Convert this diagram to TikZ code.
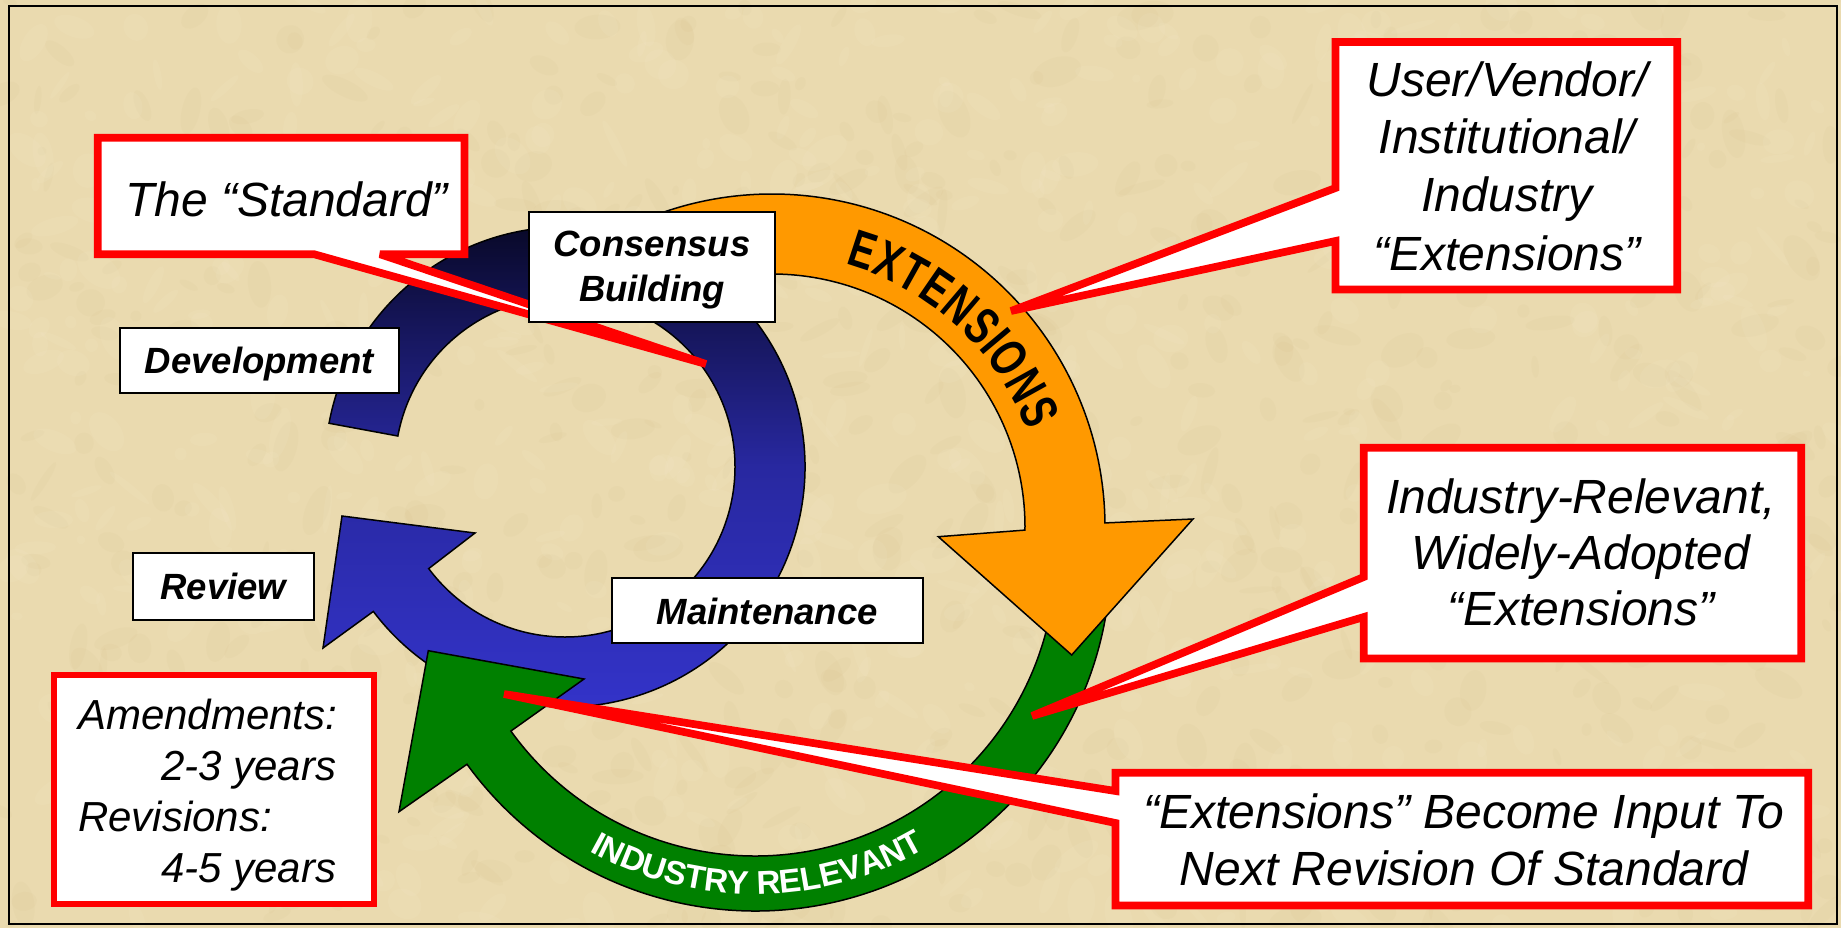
\documentclass[tikz,border=0pt]{standalone}
\usepackage{graphicx}
\usepackage{fontspec}
\setmainfont{Liberation Sans}
\usetikzlibrary{calc}
\definecolor{parch}{HTML}{EADAAF}
\definecolor{parchD}{HTML}{CDB27C}
\definecolor{parchL}{HTML}{F8EFD4}
\definecolor{navyTop}{HTML}{06061F}
\definecolor{blueMid}{HTML}{2828A0}
\definecolor{blueBot}{HTML}{3434CC}
\definecolor{orangeA}{HTML}{FF9900}
\definecolor{greenA}{HTML}{008000}
\definecolor{redC}{HTML}{FF0000}
\tikzset{
  arrowshape/.style={draw=black, line width=1.5pt, line join=miter},
  callout/.style={draw=redC, fill=white, line width=7.7pt, line join=miter, miter limit=4},
  lblbox/.style={draw=black, fill=white, line width=2pt},
  lbltext/.style={font=\fontsize{36.5}{40}\selectfont\bfseries\itshape, inner sep=0pt, anchor=base},
  bigtext/.style={font=\fontsize{48}{57}\selectfont\itshape, inner sep=0pt, anchor=base},
  amtext/.style={font=\fontsize{42}{51}\selectfont\itshape, inner sep=0pt, anchor=base west},
  extletter/.style={font=\fontsize{52.5}{52.5}\selectfont\bfseries, inner sep=0pt, text=black},
  indletter/.style={font=\fontsize{33}{33}\selectfont\bfseries, inner sep=0pt, text=white}
}
\begin{document}
\begin{tikzpicture}[x=1pt,y=1pt]
\useasboundingbox (0,0) rectangle (1841,-928);
\clip (0,0) rectangle (1841,-928);
% parchment background
\fill[parch] (0,0) rectangle (1841,-928);
\pgfmathsetseed{11}
\foreach \k in {1,...,700}{
  \pgfmathsetmacro{\px}{rnd*1841}
  \pgfmathsetmacro{\py}{-rnd*928}
  \pgfmathsetmacro{\pr}{4+rnd*22}
  \pgfmathsetmacro{\pq}{3+rnd*12}
  \pgfmathsetmacro{\pa}{rnd*180}
  \fill[parchD, opacity=0.07, rotate around={\pa:(\px,\py)}] (\px,\py) ellipse[x radius=\pr, y radius=\pq];
}
\foreach \k in {1,...,700}{
  \pgfmathsetmacro{\px}{rnd*1841}
  \pgfmathsetmacro{\py}{-rnd*928}
  \pgfmathsetmacro{\pr}{4+rnd*22}
  \pgfmathsetmacro{\pq}{3+rnd*12}
  \pgfmathsetmacro{\pa}{rnd*180}
  \fill[parchL, opacity=0.10, rotate around={\pa:(\px,\py)}] (\px,\py) ellipse[x radius=\pr, y radius=\pq];
}
\draw[black, line width=2pt] (9,-6) rectangle (1837,-924);

% centres of the three circular arrows
\coordinate (bc) at (565,-467);
\coordinate (oc) at (772,-527);
\coordinate (gc) at (755,-555);

% blue arrow
\path[arrowshape, top color=navyTop, bottom color=blueBot, middle color=blueMid]
  ($(bc)+(169.5:240)$) arc[start angle=169.5, end angle=-143, radius=240pt]
  -- (323,-648) -- (342,-516) -- (475,-533)
  -- ($(bc)+(-143.3:170)$) arc[start angle=-143.3, end angle=169.5, radius=170pt]
  -- cycle;

% green arrow
\path[arrowshape, fill=greenA]
  ($(gc)+(-5:356)$) arc[start angle=-5, end angle=-144, radius=356pt]
  -- (399,-811.7) -- (428.3,-650.7) -- (584,-679)
  -- ($(gc)+(-144.2:301)$) arc[start angle=-144.2, end angle=-5, radius=301pt]
  -- cycle;

% orange arrow
\path[arrowshape, fill=orangeA]
  ($(oc)+(112:333)$) arc[start angle=112, end angle=0.7, radius=333pt]
  -- (1193,-519) -- (1071.7,-655) -- (938.3,-536.7)
  -- ($(oc)+(-0.7:253)$) arc[start angle=-0.7, end angle=112, radius=253pt]
  -- cycle;

% EXTENSIONS along the orange arc
\foreach \ch/\a [count=\i] in {E/71.8, X/66.2, T/60.83, E/55.47, N/49.63, S/43.8, I/39.83, O/35.4, N/29.1, S/23.26}
  \node[extletter, rotate=\a-90] (ext\i) at ($(oc)+(\a:291)$) {\scalebox{0.72}[1]{\ch}};

% INDUSTRY RELEVANT along the green arc
\foreach \ch/\a [count=\i] in {I/-118.5, N/-115.75, D/-111.77, U/-107.8, S/-103.97, T/-100.45, R/-96.78, Y/-92.96, R/-87.61, E/-83.78, L/-80.26, E/-76.75, V/-73.07, A/-69.25, N/-65.27, T/-61.6}
  \node[indletter, rotate=\a+90] (ind\i) at ($(gc)+(\a:328)$) {\ch};

% callouts
\draw[callout] (97.8,-137.8) -- (464.5,-137.8) -- (464.5,-254.2) -- (380,-254.2)
  -- (706,-364) -- (314,-254.2) -- (97.8,-254.2) -- cycle;
\node[bigtext] (std) at (286.5,-216) {The “Standard”};

\draw[callout] (1335.5,-42.1) -- (1677.2,-42.1) -- (1677.2,-289.5) -- (1335.5,-289.5)
  -- (1335.5,-241) -- (1011,-311) -- (1335.5,-188) -- cycle;
\node[bigtext] (uv1) at (1507,-96.7) {User/Vendor/};
\node[bigtext] (uv2) at (1507,-153.3) {Institutional/};
\node[bigtext] (uv3) at (1507,-211.7) {Industry};
\node[bigtext] (uv4) at (1507,-270) {“Extensions”};

\draw[callout] (1363.8,-447.8) -- (1801.2,-447.8) -- (1801.2,-658.5) -- (1363.8,-658.5)
  -- (1363.8,-617) -- (1032,-716) -- (1363.8,-577) -- cycle;
\node[bigtext] (ir1) at (1581,-513.3) {Industry-Relevant,};
\node[bigtext] (ir2) at (1581,-569) {Widely-Adopted};
\node[bigtext] (ir3) at (1581,-625) {“Extensions”};

\draw[callout] (1115.5,-772.8) -- (1808.2,-772.8) -- (1808.2,-905.5) -- (1115.5,-905.5)
  -- (1115.5,-823) -- (504,-694) -- (1115.5,-791) -- cycle;
\node[bigtext] (bi1) at (1464,-828.3) {“Extensions” Become Input To};
\node[bigtext] (bi2) at (1464,-885) {Next Revision Of Standard};

\draw[callout, line width=5.7pt] (53.8,-675.2) rectangle (374,-904.2);
\node[amtext] (am1) at (78,-729) {Amendments:};
\node[amtext] (am2) at (161,-780) {2-3 years};
\node[amtext] (am3) at (78,-831) {Revisions:};
\node[amtext] (am4) at (161,-882) {4-5 years};

% white phase labels
\draw[lblbox] (529,-211.7) rectangle (775,-322.3);
\node[lbltext] (cons1) at (652,-256.7) {Consensus};
\node[lbltext] (cons2) at (652,-301.7) {Building};
\draw[lblbox] (119.7,-328) rectangle (399,-393);
\node[lbltext] (dev) at (259.4,-373.5) {Development};
\draw[lblbox] (132.7,-553) rectangle (314,-620);
\node[lbltext] (rev) at (223.4,-599.5) {Review};
\draw[lblbox] (612,-578.3) rectangle (922.7,-643.3);
\node[lbltext] (mnt) at (767.3,-624) {Maintenance};
\end{tikzpicture}
\end{document}
